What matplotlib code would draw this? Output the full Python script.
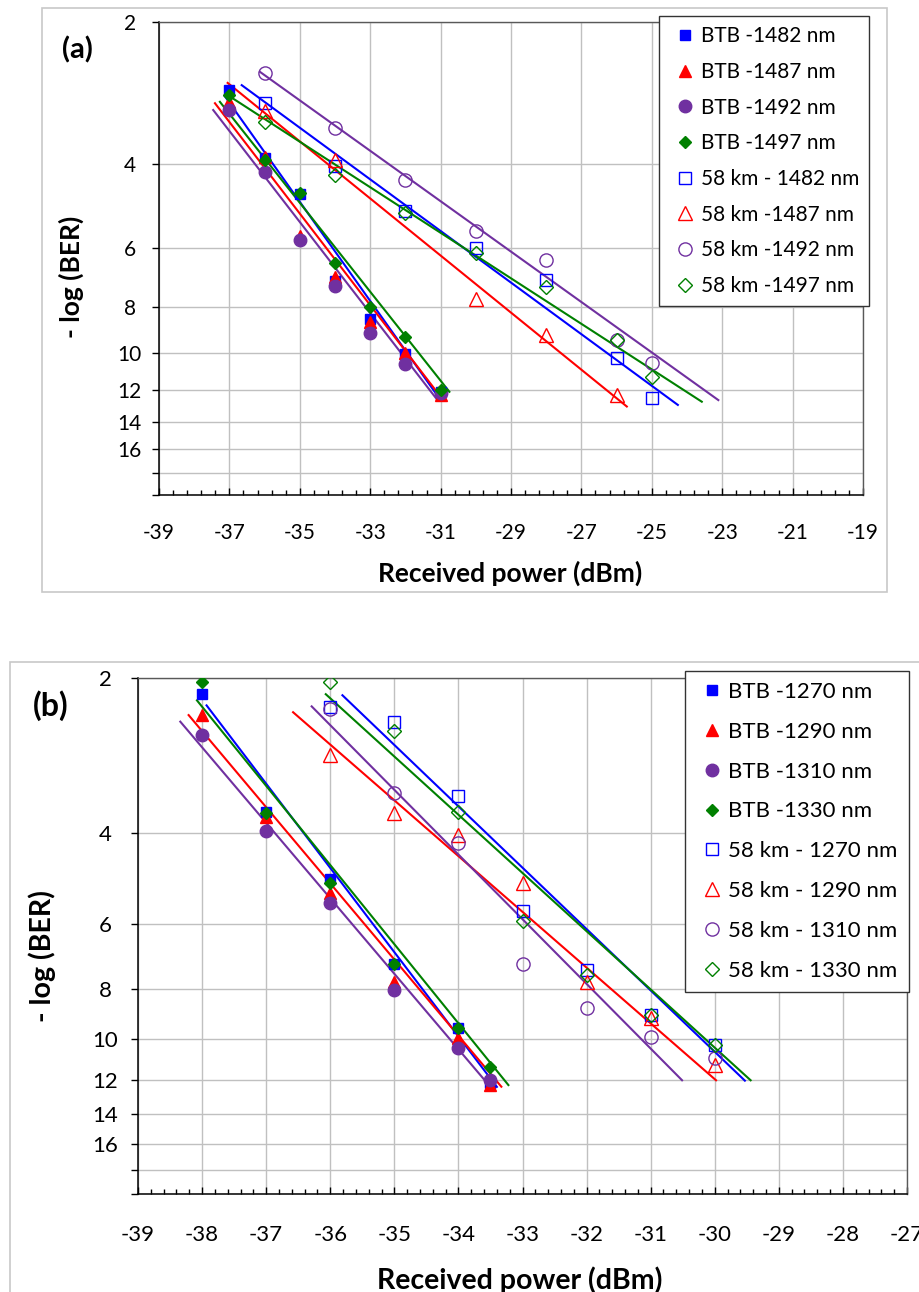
import numpy as np
import matplotlib
matplotlib.use('Agg')
import matplotlib.pyplot as plt
from matplotlib.lines import Line2D
from matplotlib.patches import Rectangle
from matplotlib.ticker import FixedLocator, NullLocator

plt.rcParams['font.family'] = ['Lato', 'DejaVu Sans']
plt.rcParams['axes.unicode_minus'] = False

# ---------------- panel (a) data : 1482-1497 nm ----------------
a_labels = ['BTB -1482 nm', 'BTB -1487 nm', 'BTB -1492 nm', 'BTB -1497 nm',
            '58 km - 1482 nm', '58 km -1487 nm', '58 km -1492 nm', '58 km -1497 nm']

a_btb_x = [-37, -36, -35, -34, -33, -32, -31]
a_btb_1482 = [2.78, 3.87, 4.63, 7.06, 8.51, 10.08, 12.1]
a_btb_1487 = [2.95, 3.85, 5.66, 6.93, 8.6, 10.0, 12.3]
a_btb_1492 = [3.07, 4.16, 5.77, 7.23, 9.07, 10.58, 12.2]
a_btb_1497 = [2.86, 3.91, 4.6, 6.48, 8.0, 9.25, 12.0]

a_km_1482_x = [-36, -34, -32, -30, -28, -26, -25]
a_km_1482 = [2.96, 4.04, 5.03, 6.02, 7.03, 10.25, 12.5]
a_km_1487_x = [-36, -34, -30, -28, -26]
a_km_1487 = [3.09, 3.91, 7.69, 9.19, 12.3]
a_km_1492_x = [-36, -34, -32, -30, -28, -26, -25]
a_km_1492 = [2.56, 3.35, 4.32, 5.52, 6.38, 9.4, 10.5]
a_km_1497_x = [-36, -34, -32, -30, -28, -26, -25]
a_km_1497 = [3.26, 4.21, 5.08, 6.15, 7.26, 9.4, 11.24]

# trend lines: (start, end) in received power and in -log(BER)
a_trend_x = [(-37.13, -31.05), (-37.41, -31.02), (-37.46, -31.11), (-37.27, -30.75),
             (-36.65, -24.26), (-37.05, -25.71), (-36.13, -23.11), (-37.0, -23.58)]
a_trend_y = [(2.87, 12.45), (2.97, 12.34), (3.07, 12.54), (2.95, 12.1),
             (2.72, 12.9), (2.69, 13.0), (2.55, 12.6), (2.87, 12.7)]

# ---------------- panel (b) data : 1270-1330 nm ----------------
b_labels = ['BTB -1270 nm', 'BTB -1290 nm', 'BTB -1310 nm', 'BTB -1330 nm',
            '58 km - 1270 nm', '58 km - 1290 nm', '58 km - 1310 nm', '58 km - 1330 nm']

b_btb_x = [-38, -37, -36, -35, -34, -33.5]
b_btb_1270 = [2.15, 3.63, 4.91, 7.17, 9.55, 12.2]
b_btb_1290 = [2.36, 3.72, 5.21, 7.76, 9.98, 12.3]
b_btb_1310 = [2.58, 3.96, 5.45, 8.05, 10.44, 12.0]
b_btb_1330 = [2.04, 3.65, 4.99, 7.17, 9.55, 11.33]

b_km_x = [-36, -35, -34, -33, -32, -31, -30]
b_km_1270 = [2.28, 2.43, 3.39, 5.65, 7.36, 9.0, 10.28]
b_km_1290 = [2.82, 3.66, 4.03, 4.99, 7.76, 9.13, 11.25]
b_km_1310 = [2.30, 3.34, 4.18, 7.17, 8.71, 9.91, 10.92]
b_km_1330 = [2.04, 2.53, 3.63, 5.91, 7.53, 9.0, 10.3]

b_trend_x = [(-37.93, -33.4), (-38.21, -33.33), (-38.34, -33.54), (-38.08, -33.22),
             (-35.81, -29.53), (-36.58, -29.98), (-36.29, -30.51), (-36.07, -29.44)]
b_trend_y = [(2.26, 12.4), (2.36, 12.39), (2.43, 12.24), (2.21, 12.3),
             (2.16, 12.06), (2.33, 12.04), (2.27, 12.04), (2.15, 12.04)]

y_ticks = [2, 4, 6, 8, 10, 12, 14, 16, 18, 20]
y_ticklabels = ['2', '4', '6', '8', '10', '12', '14', '16', '', '']

# ---------------- styles ----------------
colors = ['#0000FF', '#FF0000', '#7030A0', '#008000']
markers = ['s', '^', 'o', 'D']
btb_ms = [6.5, 9, 9, 6]
km_ms = [8.5, 10, 9.5, 7]

W, H = 920, 1292
fig = plt.figure(figsize=(W / 100, H / 100), dpi=100)


def fx(px):
    return px / W


def fy(py):
    return 1 - py / H


def draw_panel(rect, xlim, xstep, xminor, btb, km, trend_x, trend_y, labels,
               fs, ypad, xpad, leg_xy, leg_fs, leg_hl, leg_sp):
    ax = fig.add_axes(rect)
    ax.set_yscale('log')
    ax.set_xlim(*xlim)
    ax.set_ylim(y_ticks[-1], y_ticks[0])
    ax.yaxis.set_major_locator(FixedLocator(y_ticks))
    ax.yaxis.set_minor_locator(NullLocator())
    ax.set_yticklabels(y_ticklabels)
    xt = np.arange(xlim[0], xlim[1] + 0.01, xstep)
    ax.set_xticks(xt)
    ax.set_xticklabels([f'{v:g}' for v in xt])
    ax.xaxis.set_minor_locator(FixedLocator(np.arange(xlim[0], xlim[1] + 0.01, xminor)))
    ax.grid(True, which='major', color='#C0C0C0', lw=1.0)
    ax.set_axisbelow(True)
    ax.tick_params(axis='y', direction='out', length=5, width=1, labelsize=fs, pad=ypad)
    ax.tick_params(axis='x', which='major', direction='in', length=5, width=1,
                   labelsize=fs, pad=xpad)
    ax.tick_params(axis='x', which='minor', direction='in', length=3.5, width=1)
    for lbl in ax.get_yticklabels():
        lbl.set_ha('center')
    for side in ['left', 'bottom']:
        ax.spines[side].set_color('black')
        ax.spines[side].set_linewidth(1.1)
    for side in ['top', 'right']:
        ax.spines[side].set_color('#595959')
        ax.spines[side].set_linewidth(1.0)

    # trend lines
    for i in range(8):
        ax.plot(trend_x[i], trend_y[i], color=colors[i % 4], lw=1.5, zorder=2)

    # data points
    handles = []
    for i, (x, y) in enumerate(btb):
        ax.plot(x, y, ls='none', marker=markers[i], ms=btb_ms[i], mfc=colors[i],
                mec=colors[i], zorder=3)
        handles.append(Line2D([], [], ls='none', marker=markers[i], ms=btb_ms[i],
                              mfc=colors[i], mec=colors[i]))
    for i, (x, y) in enumerate(km):
        ax.plot(x, y, ls='none', marker=markers[i], ms=km_ms[i], mfc='none',
                mec=colors[i], mew=1.0, zorder=3)
        handles.append(Line2D([], [], ls='none', marker=markers[i], ms=km_ms[i],
                              mfc='none', mec=colors[i], mew=1.0))

    leg = ax.legend(handles, labels, loc='upper left', bbox_to_anchor=leg_xy,
                    bbox_transform=fig.transFigure, fancybox=False, framealpha=1,
                    edgecolor='#333333', fontsize=leg_fs, borderpad=0.5,
                    labelspacing=leg_sp, handlelength=leg_hl, handletextpad=0.0,
                    borderaxespad=0)
    leg.get_frame().set_linewidth(1.0)
    leg.set_zorder(10)
    return ax


# ---------------- panel (a) ----------------
fig.add_artist(Rectangle((fx(42), fy(592)), fx(887) - fx(42), fy(8) - fy(592),
                         transform=fig.transFigure, fill=False, ec='#C8C8C8', lw=1.2))
draw_panel([fx(159), fy(495), fx(863) - fx(159), fy(22) - fy(495)],
           (-39, -19), 2, 0.4,
           [(a_btb_x, a_btb_1482), (a_btb_x, a_btb_1487), (a_btb_x, a_btb_1492), (a_btb_x, a_btb_1497)],
           [(a_km_1482_x, a_km_1482), (a_km_1487_x, a_km_1487), (a_km_1492_x, a_km_1492), (a_km_1497_x, a_km_1497)],
           a_trend_x, a_trend_y, a_labels, 15, 16, 20, (fx(659), fy(16)), 15, 1.5, 0.75)
fig.text(fx(77), fy(50), '(a)', fontsize=21, fontweight='bold', ha='center', va='center')
fig.text(fx(71), fy(277), '- log (BER)', fontsize=19, fontweight='bold', rotation=90,
         ha='center', va='center')
fig.text(fx(510), fy(573), 'Received power (dBm)', fontsize=19, fontweight='bold',
         ha='center', va='center')

# ---------------- panel (b) ----------------
fig.add_artist(Rectangle((fx(10), fy(1340)), fx(960) - fx(10), fy(662) - fy(1340),
                         transform=fig.transFigure, fill=False, ec='#C8C8C8', lw=1.2))
draw_panel([fx(138), fy(1194), fx(907) - fx(138), fy(678) - fy(1194)],
           (-39, -27), 1, 0.2,
           [(b_btb_x, b_btb_1270), (b_btb_x, b_btb_1290), (b_btb_x, b_btb_1310), (b_btb_x, b_btb_1330)],
           [(b_km_x, b_km_1270), (b_km_x, b_km_1290), (b_km_x, b_km_1310), (b_km_x, b_km_1330)],
           b_trend_x, b_trend_y, b_labels, 16, 18.5, 22, (fx(685), fy(671)), 16, 1.45, 0.89)
fig.text(fx(51), fy(706), '(b)', fontsize=23, fontweight='bold', ha='center', va='center')
fig.text(fx(42), fy(956), '- log (BER)', fontsize=20.5, fontweight='bold', rotation=90,
         ha='center', va='center')
fig.text(fx(520), fy(1280), 'Received power (dBm)', fontsize=20.5, fontweight='bold',
         ha='center', va='center')

fig.savefig('out.png', dpi=100)
